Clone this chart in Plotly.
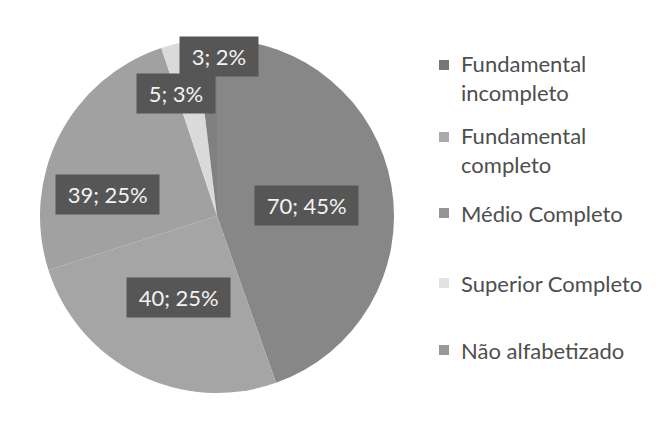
import math
import plotly.graph_objects as go

# Escolaridade dos entrevistados
categories = ["Fundamental incompleto", "Fundamental completo", "Médio Completo",
              "Superior Completo", "Não alfabetizado"]
legend_labels = ["Fundamental<br>incompleto", "Fundamental<br>completo", "Médio Completo",
                 "Superior Completo", "Não alfabetizado"]
counts = [70, 40, 39, 5, 3]

slice_colors = ["#878787", "#a5a5a5", "#a1a1a1", "#dadada", "#808080"]
legend_colors = ["#777777", "#aaaaaa", "#959595", "#e2e2e2", "#999999"]

W, H = 660, 432
CX, CY, R = 217, 216, 177  # pie centre and radius in pixels

# label placement: fraction of radius and angular nudge (degrees) per slice
label_radius = [0.51, 0.51, 0.63, 0.73, 0.90]
label_shift = [3, -1, -16, -6, 4]
FONT = "Lato, 'Open Sans', sans-serif"

fig = go.Figure(go.Pie(
    labels=categories,
    values=counts,
    sort=False,
    direction="clockwise",
    rotation=0,
    marker=dict(colors=slice_colors, line=dict(width=0)),
    textinfo="none",
    hoverinfo="label+value+percent",
    showlegend=False,
    domain=dict(x=[(CX - R) / W, (CX + R) / W], y=[1 - (CY + R) / H, 1 - (CY - R) / H]),
))

total = sum(counts)
annotations = []
cum = 0
for i, v in enumerate(counts):
    mid = (cum + v / 2) / total * 360 + label_shift[i]
    cum += v
    d = label_radius[i] * R
    px = CX + d * math.sin(math.radians(mid))
    py = CY - d * math.cos(math.radians(mid))
    pct = round(v / total * 100)
    annotations.append(dict(
        x=px / W, y=1 - py / H, xref="paper", yref="paper",
        text=f"\u00a0{v}; {pct}%\u00a0", showarrow=False,
        font=dict(family=FONT, size=22, color="#f2f2f2"),
        bgcolor="#565656", borderpad=6,
        xanchor="center", yanchor="middle",
    ))

# legend drawn at the right
legend_y = [78, 150, 213, 283, 350]
shapes = []
for i, lab in enumerate(legend_labels):
    two_lines = "<br>" in lab
    y_marker = legend_y[i] - (13 if two_lines else 0)
    annotations.append(dict(
        x=459 / W, y=1 - legend_y[i] / H, xref="paper", yref="paper",
        text=lab, showarrow=False, align="left",
        font=dict(family=FONT, size=22, color="#4e4e4e"),
        xanchor="left", yanchor="middle",
    ))
    shapes.append(dict(
        type="rect", xref="paper", yref="paper",
        x0=439 / W, x1=449 / W,
        y0=1 - (y_marker + 5) / H, y1=1 - (y_marker - 5) / H,
        fillcolor=legend_colors[i], line=dict(width=0),
    ))

fig.update_layout(
    width=W, height=H,
    margin=dict(l=0, r=0, t=0, b=0),
    paper_bgcolor="#ffffff",
    plot_bgcolor="#ffffff",
    annotations=annotations,
    shapes=shapes,
)

fig.write_html("out.html")
